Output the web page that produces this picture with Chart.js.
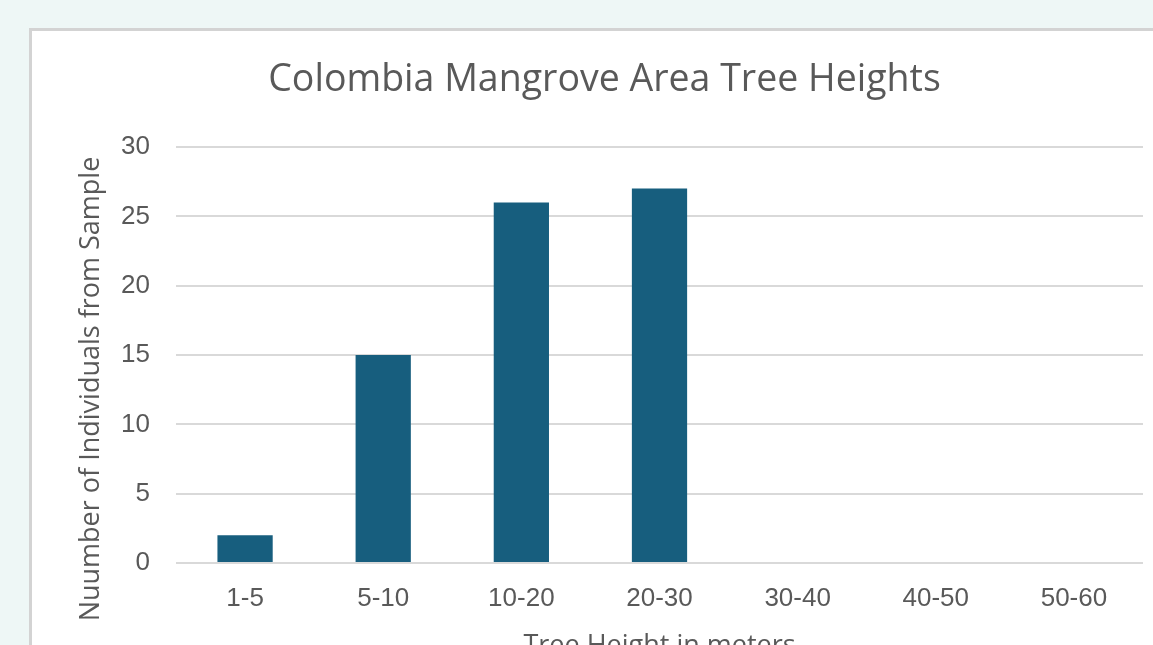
<!DOCTYPE html>
<html>
<head>
<meta charset="utf-8">
<title>Colombia Mangrove Area Tree Heights</title>
<script src="https://cdn.jsdelivr.net/npm/chart.js@4/dist/chart.umd.min.js"></script>
<style>
  html, body { margin: 0; padding: 0; width: 1153px; height: 645px; overflow: hidden; background: #eef7f6; }
  #panel {
    position: absolute; left: 29px; top: 28px;
    width: 1200px; height: 720px;
    background: #ffffff;
    border: 3px solid #d3d3d3;
  }
  #wrap { position: absolute; left: 0; top: 0; width: 1160px; height: 680px; }
</style>
</head>
<body>
<div id="panel">
  <div id="wrap"><canvas id="chart" width="1160" height="680"></canvas></div>
</div>
<script>
// Height classes (metres) and number of sampled trees in each
const heightRanges = ['1-5', '5-10', '10-20', '20-30', '30-40', '40-50', '50-60'];
const individualCounts = [2, 15, 26, 27, 0, 0, 0];
const countTicks = [0, 5, 10, 15, 20, 25, 30];

const chartTitle = 'Colombia Mangrove Area Tree Heights';
const xAxisTitle = 'Tree Height in meters';
const yAxisTitle = 'Nuumber of Individuals from Sample';

const textColor = '#595959';
const barColor = '#175e7e';
const gridColor = '#d9d9d9';
const labelFont = '"Open Sans", "Liberation Sans", sans-serif';
const tickFont = '"Liberation Sans", Arial, sans-serif';

// Rotated y-axis title, centred beside the value labels
const yTitlePlugin = {
  id: 'yTitle',
  afterDraw(chart) {
    const ctx = chart.ctx;
    ctx.save();
    ctx.translate(59, 358);
    ctx.rotate(-Math.PI / 2);
    ctx.font = '27px ' + labelFont;
    ctx.fillStyle = textColor;
    ctx.textAlign = 'center';
    ctx.textBaseline = 'middle';
    ctx.fillText(yAxisTitle, 0, 0);
    ctx.restore();
  }
};

new Chart(document.getElementById('chart'), {
  type: 'bar',
  data: {
    labels: heightRanges,
    datasets: [{
      label: 'Individuals',
      data: individualCounts,
      backgroundColor: barColor,
      borderWidth: 0,
      categoryPercentage: 1.0,
      barPercentage: 0.4
    }]
  },
  options: {
    responsive: false,
    animation: false,
    devicePixelRatio: 1,
    layout: { padding: { left: 34, right: 49, top: 0, bottom: 48 } },
    plugins: {
      legend: { display: false },
      tooltip: { enabled: false },
      title: {
        display: true,
        text: chartTitle,
        color: textColor,
        font: { family: labelFont, size: 37.5, weight: 'normal', lineHeight: 1.2 },
        padding: { top: 27, bottom: 44 }
      }
    },
    scales: {
      x: {
        grid: { display: false, drawTicks: false },
        border: { display: false },
        ticks: {
          color: textColor,
          font: { family: tickFont, size: 26 },
          padding: 20,
          maxRotation: 0,
          autoSkip: false
        },
        title: {
          display: true,
          text: xAxisTitle,
          color: textColor,
          font: { family: labelFont, size: 27, lineHeight: 1.2 },
          padding: { top: 0, bottom: 0 }
        },
        afterFit(scale) { scale.height = 100; }
      },
      y: {
        min: 0,
        max: 30,
        afterBuildTicks(scale) { scale.ticks = countTicks.map(v => ({ value: v })); },
        grid: { color: gridColor, lineWidth: 2, drawTicks: false },
        border: { display: false },
        ticks: {
          color: textColor,
          font: { family: tickFont, size: 26 },
          padding: 26
        },
        afterFit(scale) { scale.width = 110; }
      }
    }
  },
  plugins: [yTitlePlugin]
});
</script>
</body>
</html>
